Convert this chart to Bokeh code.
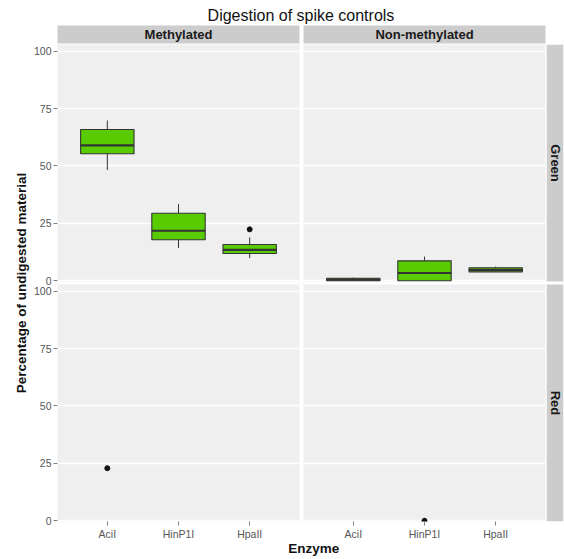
import math

from bokeh.core.properties import value
from bokeh.embed import file_html
from bokeh.models import (BoxAnnotation, CategoricalAxis, ColumnDataSource, FactorRange,
                          FixedTicker, Grid, GridBox, LinearAxis, Range1d)
from bokeh.plotting import figure
from bokeh.resources import INLINE
from bokeh.transform import dodge

# ---- data -------------------------------------------------------------
title_text = "Digestion of spike controls"
x_title = "Enzyme"
y_title = "Percentage of undigested material"
col_labels = ["Methylated", "Non-methylated"]
row_labels = ["Green", "Red"]
enzymes = ["AciI", "HinP1I", "HpaII"]
y_ticks = [0, 25, 50, 75, 100]

# Green channel, methylated spikes (box statistics per enzyme)
meth_green_lower = [48.3, 14.3, 9.9]
meth_green_q1 = [55.3, 17.9, 11.9]
meth_green_median = [59.0, 21.8, 13.5]
meth_green_q3 = [65.9, 29.4, 15.8]
meth_green_upper = [69.8, 33.4, 18.9]
meth_green_out_x = ["HpaII"]
meth_green_out_y = [22.4]

# Green channel, non-methylated spikes
nonmeth_green_lower = [0.0, 0.0, 3.8]
nonmeth_green_q1 = [0.0, 0.0, 3.9]
nonmeth_green_median = [0.5, 3.4, 4.8]
nonmeth_green_q3 = [1.1, 8.7, 5.7]
nonmeth_green_upper = [1.4, 10.5, 6.2]

# Red channel: only isolated observations
meth_red_out_x = ["AciI"]
meth_red_out_y = [22.9]
nonmeth_red_out_x = ["HinP1I"]
nonmeth_red_out_y = [0.0]
nonmeth_red_whisker_lower = [0.0]
nonmeth_red_whisker_upper = [1.0]

# ---- style ------------------------------------------------------------
FONT = "Liberation Sans"
PANEL_BG = "#EFEFEF"
STRIP_BG = "#CCCCCC"
BOX_FILL = "#58CC00"
EDGE = "#333333"
TICK_TXT = "#555555"
BOX_W = 0.75
Y_RANGE = (-0.3, 102.9)

PANEL_W, PANEL_H = 242, 237
LEFT_AXIS = 27
COL_GAP = 4
ROW_GAP = 3
BOTTOM_AXIS = 21
TITLE_H, STRIP_H, XLAB_H, YLAB_W, RSTRIP_W = 25, 19, 17, 30, 18

# Both facet rows share one frame per column: the red row uses the default
# y range, the green row an extra range shifted up by one panel plus the gap.
SPAN = Y_RANGE[1] - Y_RANGE[0]
GAP_U = ROW_GAP * SPAN / PANEL_H
OFFSET = round(SPAN + GAP_U, 2)
FRAME_H = 2 * PANEL_H + ROW_GAP


def red_range():
    return Range1d(Y_RANGE[0], Y_RANGE[0] + SPAN + OFFSET)


def green_range():
    return Range1d(Y_RANGE[0] - OFFSET, Y_RANGE[1])


def base_fig(width, height, x_range, y_range, **borders):
    opts = dict(min_border=0)
    opts.update(borders)
    p = figure(width=width, height=height, x_range=x_range, y_range=y_range,
               x_axis_location=None, y_axis_location=None, title=None,
               toolbar_location=None, output_backend="svg",
               background_fill_color=PANEL_BG, border_fill_color="white",
               outline_line_color=None, **opts)
    p.center = []
    return p


def style_axis(ax):
    ax.axis_line_color = None
    ax.major_tick_in = 0
    ax.major_tick_out = 4
    ax.major_tick_line_color = "#7F7F7F"
    ax.minor_tick_line_color = None
    ax.major_label_standoff = 2
    ax.major_label_text_font = FONT
    ax.major_label_text_font_size = "10.5px"
    ax.major_label_text_color = TICK_TXT


def column_fig(show_y, **borders):
    xr = FactorRange(*enzymes, range_padding=0.2, range_padding_units="absolute")
    w = PANEL_W + borders.get("min_border_left", 0) + borders.get("min_border_right", 0)
    h = FRAME_H + borders.get("min_border_bottom", 0)
    p = base_fig(w, h, xr, red_range(), **borders)
    p.extra_y_ranges = {"green": green_range()}
    for name in ("default", "green"):
        p.add_layout(Grid(dimension=1, ticker=FixedTicker(ticks=y_ticks), y_range_name=name,
                          grid_line_color="white", grid_line_width=1.3))
    # white gutter between the two facet rows
    p.add_layout(BoxAnnotation(bottom=Y_RANGE[1], top=Y_RANGE[0] + OFFSET, fill_color="white",
                               fill_alpha=1, line_color=None, level="underlay"))
    if show_y:
        ticks = list(y_ticks) + [t + OFFSET for t in y_ticks]
        labels = {t: str(t) for t in y_ticks}
        labels.update({t + OFFSET: str(t) for t in y_ticks})
        ya = LinearAxis(ticker=FixedTicker(ticks=ticks), major_label_overrides=labels)
        style_axis(ya)
        p.add_layout(ya, "left")
    xa = CategoricalAxis()
    style_axis(xa)
    p.add_layout(xa, "below")
    return p


def boxes(p, lower, q1, med, q3, upper, rname):
    src = ColumnDataSource(dict(x=enzymes, lower=lower, q1=q1, med=med, q3=q3, upper=upper))
    kw = dict(source=src, y_range_name=rname)
    p.segment(x0="x", y0="q3", x1="x", y1="upper", line_color=EDGE, line_width=1, **kw)
    p.segment(x0="x", y0="lower", x1="x", y1="q1", line_color=EDGE, line_width=1, **kw)
    p.vbar(x="x", bottom="q1", top="q3", width=BOX_W,
           fill_color=BOX_FILL, line_color=EDGE, line_width=1.1, **kw)
    p.segment(x0=dodge("x", -BOX_W / 2, range=p.x_range), y0="med",
              x1=dodge("x", BOX_W / 2, range=p.x_range), y1="med",
              line_color=EDGE, line_width=2.2, **kw)


def outliers(p, xs, ys, rname):
    p.scatter(x=xs, y=ys, size=5, color="#111111", y_range_name=rname)


def strip(label, width, height, **borders):
    s = base_fig(width, height, Range1d(0, 1), Range1d(0, 1), **borders)
    s.background_fill_color = STRIP_BG
    s.text(x=[0.5], y=[0.5], text=[label], text_align="center",
           text_baseline="middle", text_font=value(FONT), text_font_style="bold",
           text_font_size="13px", text_color="#1A1A1A")
    return s


def row_strips(**borders):
    s = base_fig(RSTRIP_W, FRAME_H + borders.get("min_border_bottom", 0),
                 Range1d(0, 1), red_range(), **borders)
    s.background_fill_color = "white"
    s.extra_y_ranges = {"green": green_range()}
    mid = (Y_RANGE[0] + Y_RANGE[1]) / 2
    for label, rname in zip(row_labels, ("green", "default")):
        s.quad(left=[0], right=[1], bottom=[Y_RANGE[0]], top=[Y_RANGE[1]],
               fill_color=STRIP_BG, line_color=None, y_range_name=rname)
        s.text(x=[0.5], y=[mid], text=[label], angle=-math.pi / 2, text_align="center",
               text_baseline="middle", text_font=value(FONT), text_font_style="bold",
               text_font_size="13px", text_color="#1A1A1A", y_range_name=rname)
    return s


def text_fig(width, height, x, y, label, angle, size, style, **borders):
    # y is measured from the top edge of the frame
    fh = height - borders.get("min_border_bottom", 0)
    t = base_fig(width, height, Range1d(0, width), Range1d(fh, 0), **borders)
    t.background_fill_color = "white"
    t.text(x=[x], y=[y], text=[label], angle=angle, text_align="center",
           text_baseline="middle", text_font=value(FONT), text_font_style=style,
           text_font_size=size, text_color="#111111")
    return t


# ---- panels -----------------------------------------------------------
p_m = column_fig(True, min_border_left=LEFT_AXIS, min_border_right=COL_GAP,
                 min_border_bottom=BOTTOM_AXIS)
boxes(p_m, meth_green_lower, meth_green_q1, meth_green_median, meth_green_q3,
      meth_green_upper, "green")
outliers(p_m, meth_green_out_x, meth_green_out_y, "green")
outliers(p_m, meth_red_out_x, meth_red_out_y, "default")

p_n = column_fig(False, min_border_right=1, min_border_bottom=BOTTOM_AXIS)
boxes(p_n, nonmeth_green_lower, nonmeth_green_q1, nonmeth_green_median,
      nonmeth_green_q3, nonmeth_green_upper, "green")
p_n.segment(x0=nonmeth_red_out_x, y0=nonmeth_red_whisker_lower,
            x1=nonmeth_red_out_x, y1=nonmeth_red_whisker_upper,
            line_color=EDGE, line_width=1)
outliers(p_n, nonmeth_red_out_x, nonmeth_red_out_y, "default")

# ---- strips -----------------------------------------------------------
s_m = strip(col_labels[0], PANEL_W + LEFT_AXIS + COL_GAP, STRIP_H,
            min_border_left=LEFT_AXIS, min_border_right=COL_GAP, min_border_bottom=1)
s_n = strip(col_labels[1], PANEL_W + 1, STRIP_H, min_border_right=1, min_border_bottom=1)
s_rows = row_strips(min_border_right=1, min_border_bottom=BOTTOM_AXIS)

# ---- titles -----------------------------------------------------------
total_w = YLAB_W + PANEL_W + LEFT_AXIS + COL_GAP + PANEL_W + 1 + RSTRIP_W
t_main = text_fig(total_w, TITLE_H, 301, 15, title_text, 0, "16px", "normal")
t_y = text_fig(YLAB_W, FRAME_H + BOTTOM_AXIS, 21, FRAME_H / 2, y_title, math.pi / 2,
               "13.5px", "bold", min_border_bottom=BOTTOM_AXIS)
xlab_w = PANEL_W + LEFT_AXIS + COL_GAP + PANEL_W + 1
t_x = text_fig(xlab_w, XLAB_H, 271, 5.5, x_title, 0, "13.5px", "bold")

layout = GridBox(children=[
    (t_main, 0, 0, 1, 4),
    (s_m, 1, 1), (s_n, 1, 2),
    (t_y, 2, 0), (p_m, 2, 1), (p_n, 2, 2), (s_rows, 2, 3),
    (t_x, 3, 1, 1, 2),
], spacing=0)

with open("out.html", "w") as f:
    f.write(file_html(layout, INLINE))
